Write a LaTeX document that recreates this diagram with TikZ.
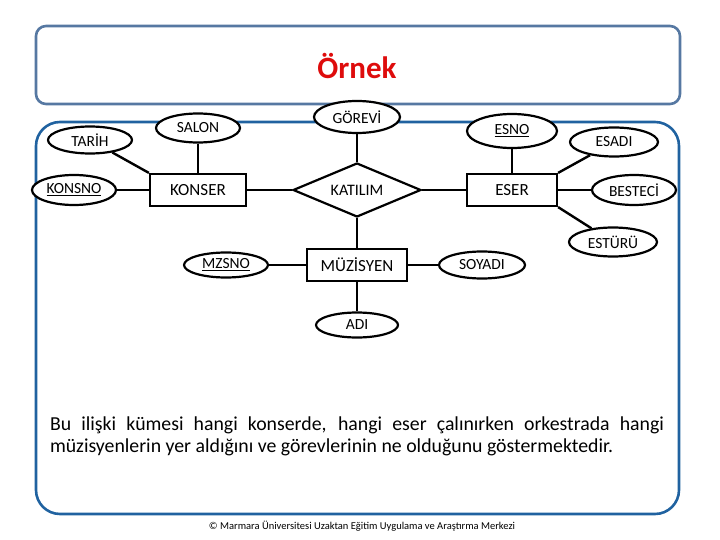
\documentclass[tikz,border=0pt]{standalone}
\usepackage{fontspec}
\setmainfont{Carlito}
\usetikzlibrary{shapes.geometric,positioning}
\definecolor{titleline}{RGB}{86,120,162}
\definecolor{bodyline}{RGB}{32,98,160}
\definecolor{titlered}{RGB}{222,12,12}
\tikzset{
  % entity set box
  entity/.style={rectangle, draw=black, fill=white, line width=2.2pt, minimum width=#1,
                 minimum height=32pt, inner sep=0pt, font=\fontsize{17}{19}\selectfont},
  entity/.default={96pt},
  % attribute ellipse
  attr/.style={ellipse, draw=black, fill=white, line width=2.2pt, minimum width=#1,
               minimum height=27pt, inner sep=0pt, font=\fontsize{15.5}{17}\selectfont},
  attr/.default={84pt},
  % relationship diamond
  rel/.style={diamond, draw=black, fill=white, line width=2.2pt, aspect=2.3,
              minimum width=128pt, minimum height=54pt, inner sep=0pt, font=\fontsize{16}{18}\selectfont},
  % connector
  link/.style={draw=black, line width=2.4pt},
  % rounded panels
  panel/.style={draw=#1, line width=2.6pt, fill=none},
}

\begin{document}
\begin{tikzpicture}[x=1pt, y=-1pt]
  \useasboundingbox (0,0) rectangle (720,540);
  % panels
  \draw[panel=titleline, rounded corners=10pt] (36,26) rectangle (680,104);
  \draw[panel=bodyline, rounded corners=24pt] (36,122) rectangle (679,514);
  \node[font=\fontsize{31}{34}\selectfont\bfseries, text=titlered] (title) at (357,66) {Örnek};
  % entities and relationship
  \node[entity] (konser) at (198,190) {KONSER};
  \node[rel] (katilim) at (357,190) {KATILIM};
  \node[entity=90pt] (eser) at (512,190) {ESER};
  \node[entity=100pt] (muzisyen) at (357,265) {MÜZİSYEN};
  % attributes
  \node[attr] (tarih) at (90,140) {TARİH};
  \node[attr, minimum height=29pt] (salon) at (198,128) {SALON};
  \node[attr, minimum height=30pt] (konsno) at (74,190) {\underline{KONSNO}};
  \node[attr=86pt, minimum height=32pt] (gorevi) at (357,117) {GÖREVİ};
  \node[attr=90pt, minimum height=34pt] (esno) at (512,131) {\underline{ESNO}};
  \node[attr=88pt, minimum height=29pt] (esadi) at (614,142) {ESADI};
  \node[attr, minimum height=30pt] (besteci) at (634,190) {BESTECİ};
  \node[attr=88pt, minimum height=29pt] (esturu) at (613,242) {ESTÜRÜ};
  \node[attr, minimum height=25pt] (mzsno) at (226,265) {\underline{MZSNO}};
  \node[attr=86pt] (soyadi) at (482,265) {SOYADI};
  \node[attr=82pt, minimum height=25pt] (adi) at (357,325) {ADI};
  % connectors
  \draw[link] (tarih) -- (konser.north west);
  \draw[link] (salon) -- (konser);
  \draw[link] (konsno) -- (konser);
  \draw[link] (konser) -- (katilim);
  \draw[link] (gorevi) -- (katilim);
  \draw[link] (katilim) -- (eser);
  \draw[link] (katilim) -- (muzisyen);
  \draw[link] (esno) -- (eser);
  \draw[link] (eser.north east) -- (esadi);
  \draw[link] (eser) -- (besteci);
  \draw[link] (eser.south east) -- (esturu);
  \draw[link] (mzsno) -- (muzisyen);
  \draw[link] (muzisyen) -- (soyadi);
  \draw[link] (muzisyen) -- (adi);
  % explanation and footer
  \node[text width=614pt, align=justify, inner sep=0pt, font=\fontsize{19.8}{22}\selectfont] (note) at (357,436)
    {Bu ilişki kümesi hangi konserde, hangi eser çalınırken orkestrada hangi müzisyenlerin yer aldığını ve görevlerinin ne olduğunu göstermektedir.};
  \node[font=\fontsize{10.5}{12}\selectfont] (footer) at (362,526) {© Marmara Üniversitesi Uzaktan Eğitim Uygulama ve Araştırma Merkezi};
\end{tikzpicture}
\end{document}
